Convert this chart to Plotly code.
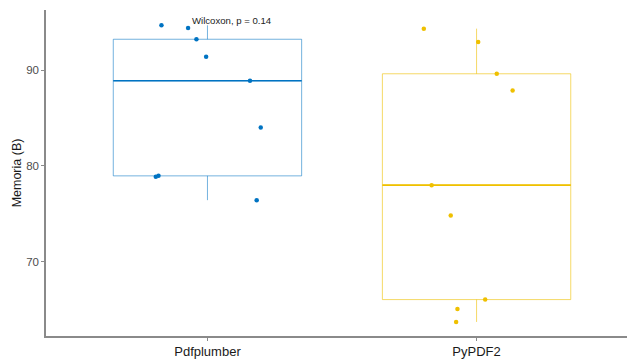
import numpy as np
import plotly.graph_objects as go

# Memory measurements per library
categories = ["Pdfplumber", "PyPDF2"]
pdfplumber_vals = [94.71, 94.43, 93.25, 91.42, 88.91, 84.03, 78.86, 78.96, 76.42]
pypdf2_vals = [94.36, 92.96, 89.64, 87.90, 77.99, 74.82, 66.02, 65.04, 63.68]
# horizontal jitter of each point (in category units)
pdfplumber_jitter = [-0.171, -0.072, -0.041, -0.005, 0.158, 0.198, -0.192, -0.182, 0.183]
pypdf2_jitter = [-0.196, 0.006, 0.075, 0.134, -0.167, -0.096, 0.032, -0.071, -0.076]
y_ticks = [70, 80, 90]
p_label = "Wilcoxon, p = 0.14"

colors = ["#0073C2", "#EFC000"]
soft = ["rgba(0,115,194,0.55)", "rgba(239,192,0,0.6)"]
box_w = 0.7
FONT = "Liberation Sans, Arial, sans-serif"

fig = go.Figure()
series = [pdfplumber_vals, pypdf2_vals]
jitters = [pdfplumber_jitter, pypdf2_jitter]

for i, (vals, jit) in enumerate(zip(series, jitters)):
    pos = i + 1
    fig.add_trace(go.Box(
        x=[pos] * len(vals), y=vals, width=box_w,
        boxpoints=False, quartilemethod="inclusive",
        fillcolor="white", line=dict(color=soft[i], width=1),
        whiskerwidth=0, showlegend=False, hoverinfo="skip",
    ))
    # bolder median bar
    med = float(np.median(vals))
    fig.add_trace(go.Scatter(
        x=[pos - box_w / 2, pos + box_w / 2], y=[med, med], mode="lines",
        line=dict(color=colors[i], width=1.6), showlegend=False, hoverinfo="skip",
    ))
    fig.add_trace(go.Scatter(
        x=[pos + j for j in jit], y=vals, mode="markers",
        marker=dict(color=colors[i], size=4.5), showlegend=False,
    ))

fig.add_annotation(
    x=0.934, y=95.25, text=p_label, showarrow=False,
    xanchor="left", yanchor="middle",
    font=dict(family=FONT, size=9.6, color="#222222"),
)

fig.update_layout(
    width=627, height=360,
    margin=dict(l=46, r=0, t=10, b=24),
    plot_bgcolor="white", paper_bgcolor="white",
    font=dict(family=FONT),
)
fig.update_xaxes(
    range=[0.4, 2.559], tickvals=[1, 2], ticktext=categories,
    showgrid=False, zeroline=False,
    showline=True, linecolor="#8a8a8a", linewidth=1.5,
    ticks="outside", ticklen=3, tickcolor="#8a8a8a",
    tickfont=dict(family=FONT, size=13, color="#1a1a1a"),
)
fig.update_yaxes(
    range=[62.21, 96.31], tickvals=y_ticks,
    showgrid=False, zeroline=False,
    showline=True, linecolor="#8a8a8a", linewidth=1.5,
    ticks="outside", ticklen=3, tickcolor="#8a8a8a",
    tickfont=dict(family=FONT, size=11.5, color="#4d4d4d"),
    title=dict(text="Memoria (B)", standoff=2,
               font=dict(family=FONT, size=12.5, color="#1a1a1a")),
)

fig.write_html("out.html")
